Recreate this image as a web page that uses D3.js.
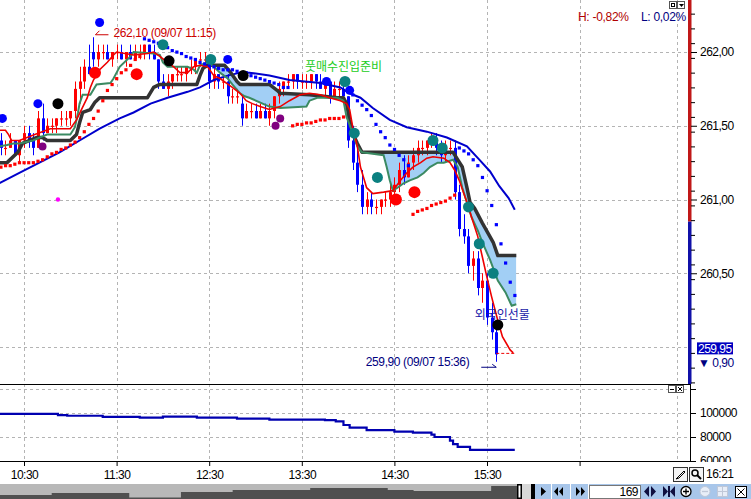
<!DOCTYPE html>
<html><head><meta charset="utf-8">
<script src="https://cdnjs.cloudflare.com/ajax/libs/d3/7.8.5/d3.min.js"></script>
<style>
html,body{margin:0;padding:0;background:#fff;overflow:hidden}
svg{display:block}
text{font-family:"Liberation Sans",Arial,sans-serif;}
.kr{font-family:"Noto Sans CJK KR","Noto Sans",sans-serif;}
</style></head><body>
<svg id="chart" width="751" height="499"></svg>
<script>
// ================= DATA =================
const barStart = "10:15";
const barMinutes = 3;
const opens = [261.40,261.35,261.35,261.40,261.30,261.40,261.45,261.40,261.35,261.55,
 261.45,261.50,261.50,261.55,261.55,261.55,261.60,261.75,261.80,261.90,
 262.00,261.95,262.00,262.00,261.95,262.00,262.00,261.95,262.00,261.95,
 262.00,262.00,262.05,262.00,261.95,261.80,261.75,261.80,261.85,261.85,
 261.85,261.90,261.90,261.95,261.95,261.95,261.80,261.85,261.80,261.80,
 261.70,261.70,261.65,261.55,261.60,261.60,261.55,261.60,261.55,261.60,
 261.70,261.75,261.80,261.80,261.85,261.80,261.80,261.80,261.85,261.80,
 261.75,261.80,261.70,261.75,261.75,261.70,261.40,261.25,261.10,260.95,
 261.00,260.95,260.95,261.00,261.00,261.05,261.10,261.20,261.15,261.25,
 261.30,261.35,261.35,261.40,261.40,261.35,261.30,261.35,261.35,261.05,
 260.80,260.75,260.55,260.60,260.40,260.45,260.20,260.10];
const highs = [261.45,261.40,261.45,261.40,261.40,261.50,261.50,261.45,261.60,261.65,
 261.55,261.55,261.55,261.60,261.60,261.60,261.80,261.90,261.95,262.05,
 262.10,262.05,262.05,262.05,262.00,262.05,262.05,262.00,262.05,262.05,
 262.05,262.05,262.05,262.05,261.95,261.85,261.85,261.85,261.90,261.90,
 261.90,261.95,261.95,262.00,262.00,261.95,261.90,261.85,261.85,261.85,
 261.75,261.75,261.70,261.65,261.65,261.65,261.65,261.65,261.65,261.70,
 261.80,261.80,261.85,261.85,261.85,261.85,261.85,261.85,261.85,261.85,
 261.80,261.80,261.80,261.80,261.80,261.70,261.50,261.35,261.20,261.05,
 261.05,261.00,261.00,261.05,261.10,261.15,261.25,261.30,261.30,261.35,
 261.40,261.40,261.40,261.45,261.45,261.40,261.40,261.40,261.40,261.10,
 260.90,260.80,260.65,260.65,260.50,260.50,260.30,260.15];
const lows = [261.30,261.30,261.35,261.30,261.25,261.35,261.35,261.30,261.35,261.40,
 261.45,261.45,261.45,261.50,261.50,261.50,261.55,261.65,261.75,261.85,
 261.90,261.90,261.95,261.95,261.90,261.95,261.95,261.90,261.95,261.95,
 261.95,261.95,261.95,261.95,261.75,261.75,261.70,261.75,261.80,261.80,
 261.80,261.85,261.85,261.90,261.90,261.75,261.75,261.75,261.75,261.65,
 261.65,261.65,261.50,261.55,261.55,261.55,261.55,261.55,261.50,261.55,
 261.65,261.70,261.75,261.75,261.75,261.75,261.75,261.75,261.75,261.75,
 261.70,261.65,261.70,261.70,261.70,261.35,261.20,261.05,260.90,260.90,
 260.90,260.90,260.90,260.95,260.95,261.00,261.05,261.10,261.15,261.20,
 261.25,261.30,261.30,261.35,261.30,261.25,261.25,261.30,261.00,260.75,
 260.70,260.50,260.45,260.35,260.30,260.15,260.05,259.90];
const closes = [261.35,261.35,261.40,261.30,261.40,261.45,261.40,261.35,261.55,261.45,
 261.50,261.50,261.55,261.55,261.55,261.60,261.75,261.80,261.90,261.85,
 261.95,262.00,262.00,261.95,262.00,262.00,261.95,262.00,261.95,262.00,
 262.00,262.05,262.00,261.95,261.80,261.75,261.80,261.85,261.85,261.85,
 261.90,261.90,261.95,261.95,261.95,261.80,261.85,261.80,261.80,261.70,
 261.70,261.70,261.55,261.60,261.60,261.55,261.60,261.55,261.60,261.70,
 261.75,261.80,261.80,261.85,261.80,261.80,261.80,261.85,261.80,261.75,
 261.80,261.70,261.75,261.75,261.70,261.40,261.25,261.10,260.95,261.00,
 260.95,260.95,261.00,261.00,261.05,261.10,261.20,261.15,261.25,261.30,
 261.35,261.35,261.40,261.40,261.35,261.30,261.35,261.35,261.05,260.80,
 260.75,260.55,260.60,260.40,260.45,260.20,260.10,259.95];

// long moving average (blue)
const maLongT = ["10:14","10:27","10:40","10:53","11:06","11:19","11:32","11:41","11:52","12:03","12:16","12:24","12:33","12:42","12:50","12:56","13:09","13:22","13:42","13:55","14:01","14:08","14:16","14:27","14:38","14:51","15:04","15:17","15:25","15:32","15:38","15:44","15:48"];
const maLongV = [261.11,261.18,261.25,261.32,261.40,261.48,261.55,261.59,261.65,261.69,261.73,261.76,261.81,261.84,261.86,261.86,261.84,261.81,261.79,261.76,261.72,261.69,261.62,261.54,261.49,261.46,261.42,261.36,261.27,261.19,261.09,261.01,260.93];

// base line (dark grey)
const baseT = ["10:14","10:19","10:26","10:29","10:38","10:42","10:45","10:49","11:00","11:04","11:06","11:08","11:13","11:16","11:19","11:50","11:54","11:58","12:22","12:24","12:26","12:29","12:40","12:44","12:48","12:50","13:09","13:14","13:16","13:35","13:53","13:57","13:59","14:01","14:03","14:06","14:09","15:08","15:11","15:14","15:17","15:19","15:22","15:27","15:34","15:37","15:49"];
const baseV = [261.25,261.25,261.32,261.38,261.42,261.42,261.40,261.40,261.40,261.44,261.52,261.59,261.61,261.66,261.69,261.69,261.76,261.78,261.78,261.84,261.89,261.91,261.91,261.86,261.80,261.78,261.78,261.74,261.72,261.71,261.69,261.69,261.65,261.54,261.45,261.38,261.32,261.32,261.27,261.22,261.08,260.98,260.94,260.84,260.71,260.62,260.62];

// conversion line (green)
const convT = ["10:14","10:19","10:23","10:27","10:36","10:40","10:45","11:00","11:03","11:05","11:06","11:08","11:13","11:17","11:26","11:28","11:30","11:32","11:39","11:41","11:54","11:58","12:00","12:03","12:16","12:20","12:22","12:24","12:29","12:33","12:37","12:42","12:45","12:50","12:53","12:56","13:09","13:16","13:33","13:35","13:40","13:53","13:57","13:59","14:03","14:06","14:09","14:23","14:25","14:27","14:29","14:32","14:36","14:40","14:45","14:49","14:53","14:58","15:02","15:08","15:11","15:14","15:17","15:20","15:24","15:27","15:32","15:37","15:42","15:46","15:49"];
const convV = [261.36,261.37,261.38,261.38,261.40,261.42,261.44,261.44,261.49,261.59,261.65,261.71,261.71,261.78,261.79,261.82,261.86,261.90,261.97,262.00,261.99,261.98,261.93,261.90,261.90,261.88,261.86,261.91,261.93,261.90,261.86,261.82,261.78,261.72,261.70,261.69,261.63,261.62,261.63,261.67,261.69,261.69,261.67,261.56,261.45,261.36,261.32,261.30,261.22,261.13,261.06,261.08,261.11,261.13,261.15,261.18,261.22,261.25,261.25,261.27,261.22,261.08,260.98,260.88,260.79,260.71,260.59,260.45,260.37,260.28,260.29];

// short moving average (red)
const maShortT = ["10:14","10:18","10:20","10:22","10:27","10:37","10:47","11:00","11:04","11:11","11:13","11:15","11:19","11:24","11:28","11:30","11:41","11:50","11:54","11:58","12:03","12:07","12:11","12:16","12:20","12:24","12:29","12:33","12:37","12:45","12:50","12:54","12:58","13:03","13:09","13:16","13:22","13:29","13:35","13:42","13:48","13:55","13:59","14:01","14:03","14:06","14:08","14:12","14:16","14:23","14:29","14:34","14:38","14:42","14:47","14:51","14:55","15:02","15:06","15:09","15:12","15:17","15:20","15:24","15:27","15:30","15:33","15:37","15:40","15:45","15:47"];
const maShortV = [261.47,261.47,261.44,261.40,261.40,261.44,261.48,261.48,261.54,261.69,261.76,261.81,261.88,261.93,261.98,262.00,261.98,261.99,262.00,261.97,261.93,261.90,261.86,261.86,261.90,261.91,261.90,261.84,261.82,261.76,261.72,261.67,261.65,261.63,261.61,261.63,261.67,261.71,261.72,261.71,261.69,261.67,261.65,261.61,261.49,261.36,261.22,261.08,261.04,261.05,261.06,261.13,261.18,261.22,261.25,261.28,261.29,261.28,261.25,261.20,261.13,260.98,260.88,260.75,260.61,260.47,260.34,260.18,260.07,259.98,259.96];
const lastTailEnd = "15:48";

// parabolic SAR dot groups (start time, one dot per bar)
const sarStarts = ["10:15","11:48","13:24","14:00","14:42","15:12"];
const sarSides  = ["below","above","below","above","below","above"];
const sar1 = [261.22,261.23,261.23,261.24,261.25,261.25,261.25,261.25,261.26,261.27,261.29,261.31,261.32,261.34,261.35,261.37,261.39,261.42,261.46,261.51,261.55,261.60,261.67,261.74,261.78,261.82,261.86,261.88,261.91,261.95,261.97];
const sar2 = [262.09,262.08,262.07,262.06,262.04,262.03,262.01,262.00,261.99,261.97,261.96,261.95,261.93,261.92,261.91,261.90,261.89,261.88,261.88,261.88,261.87,261.86,261.86,261.84,261.83,261.82,261.81,261.80,261.79,261.78,261.76,261.76];
const sar3 = [261.50,261.51,261.51,261.52,261.52,261.53,261.54,261.54,261.55,261.55,261.55,261.56];
const sar4 = [261.74,261.71,261.67,261.64,261.61,261.57,261.51,261.46,261.42,261.37,261.34,261.30,261.27,261.23];
const sar5 = [260.90,260.92,260.93,260.94,260.96,260.97,260.98,260.99,261.01,261.03];
const sar6 = [261.35,261.33,261.31,261.27,261.23,261.15,261.06,260.96,260.83,260.70,260.57,260.44,260.35];

// signal markers
const sigT = ["10:16","10:39","11:19","12:42","13:46","14:01","10:52","12:04","12:52","15:37","12:00","12:31","13:58","14:04","14:19","14:55","15:01","15:18","15:25","15:34","11:16","11:43","14:31","14:43","10:42","13:13","13:16","10:52"];
const sigV = [261.55,261.65,262.20,261.95,261.80,261.74,261.65,261.94,261.84,260.15,262.05,261.95,261.80,261.45,261.15,261.40,261.35,260.95,260.70,260.50,261.86,261.85,261.00,261.05,261.36,261.50,261.55,261.00];
const sigKind = ["B","B","B","B","B","B","K","K","K","K","T","T","T","T","T","T","T","T","T","T","R","R","R","R","P","P","P","M"];

// lower pane (step line)
const subT = ["10:14","10:52","10:58","11:21","11:45","12:00","12:22","12:48","13:09","13:45","13:52","13:57","14:01","14:12","14:30","14:42","14:54","14:56","15:06","15:08","15:11","15:19","15:48"];
const subV = [99200,98300,97700,96700,96100,96900,96100,95300,94400,94100,93100,90000,87800,85800,84400,83600,82000,80000,77000,74000,71700,69200,69200];

// axes / labels
const priceTicks = [262.0, 261.5, 261.0, 260.5];
const priceGrid = [262.0, 261.5, 261.0, 260.5, 260.0];
const subTicks = [100000, 80000, 60000];
const subGrid = [120000, 100000, 80000];
const timeLabels = ["10:30","11:30","12:30","13:30","14:30","15:30"];
const timeTickMarks = ["10:30","11:30","12:30","13:30","14:30","15:30","16:30"];
const timeGrid = ["10:30","11:30","12:30","13:30","14:30","15:30","16:30","17:33"];
const refPrice = 260.85;
const lastPrice = 259.95;
const highLabel = "262,10 (09/07 11:15)";
const lowLabel = "259,90 (09/07 15:36)";
const highPoint = ["11:15", 262.10];
const lowPoint = ["15:36", 259.90];
const noteTexts = ["풋매수진입준비", "외국인선물"];
const noteT = ["13:32", "15:22"];
const noteV = [261.90, 260.22];
const headerH = "H: -0,82%";
const headerL = "L: 0,02%";
const clockLabel = "16:21";
const barCountLabel = "169";
const overviewV = [4,4,6,6,6,1.5,1.5,7,7,9,9,9,11,11,11,9,8,8,8,13,13];

// ================= RENDER =================
const svg = d3.select("#chart");
const tp = d3.timeParse("%H:%M");
const x = d3.scaleTime().domain([tp("10:30"), tp("15:30")]).range([24, 487]);
const y = d3.scaleLinear().domain([262, 260]).range([52, 347]);
const ySub = d3.scaleLinear().domain([60000, 120000]).range([461, 389]);
const R = 688, MB = 384, SB = 461;
const fmtP = d => d3.format(".2f")(d).replace(".", ",");
const gridCol = "#b4b4b4";

svg.append("rect").attr("width", 751).attr("height", 499).attr("fill", "#fff");
const defs = svg.append("defs");
defs.append("clipPath").attr("id", "cMain").append("rect").attr("x", 0).attr("y", 0).attr("width", R).attr("height", MB);
defs.append("clipPath").attr("id", "cSub").append("rect").attr("x", 0).attr("y", MB).attr("width", R).attr("height", SB - MB);
defs.append("clipPath").attr("id", "cLbl").append("rect").attr("x", 0).attr("y", MB + 1).attr("width", 60).attr("height", SB - MB);

const pts = (T, V) => T.map((t, i) => [tp(t), V[i]]);
const barTimes = opens.map((_, i) => d3.timeMinute.offset(tp(barStart), i * barMinutes));

// grid
const grid = svg.append("g").attr("stroke", gridCol).attr("stroke-dasharray", "3,3").attr("stroke-width", 1);
priceGrid.forEach(v => grid.append("line").attr("x1", 0).attr("x2", R).attr("y1", Math.round(y(v)) + 0.5).attr("y2", Math.round(y(v)) + 0.5));
subGrid.forEach(v => grid.append("line").attr("x1", 0).attr("x2", R).attr("y1", Math.round(ySub(v)) + 0.5).attr("y2", Math.round(ySub(v)) + 0.5));
timeGrid.forEach(t => grid.append("line").attr("y1", 0).attr("y2", SB).attr("x1", Math.round(x(tp(t))) + 0.5).attr("x2", Math.round(x(tp(t))) + 0.5));

const main = svg.append("g").attr("clip-path", "url(#cMain)");

// cloud fill between base (top) and conversion (below)
const convPts = pts(convT, convV), basePts = pts(baseT, baseV);
defs.append("clipPath").attr("id", "cAboveConv").append("path")
  .attr("d", d3.area().x(d => x(d[0])).y0(0).y1(d => y(d[1]))(convPts));
main.append("path").attr("clip-path", "url(#cAboveConv)")
  .attr("d", d3.area().x(d => x(d[0])).y0(d => y(d[1])).y1(MB)(basePts))
  .attr("fill", "#a2cff5");

// candles
const cg = main.append("g");
barTimes.forEach((t, i) => {
  const up = closes[i] >= opens[i];
  const col = up ? "#ff0000" : "#0000ff";
  const cx = Math.round(x(t));
  cg.append("line").attr("x1", cx + 0.5).attr("x2", cx + 0.5).attr("y1", y(highs[i])).attr("y2", y(lows[i])).attr("stroke", col).attr("stroke-width", 1);
  const top = y(Math.max(opens[i], closes[i])), bot = y(Math.min(opens[i], closes[i]));
  cg.append("rect").attr("x", cx - 1).attr("y", top).attr("width", 3).attr("height", Math.max(1.2, bot - top)).attr("fill", col);
});

const line = d3.line().x(d => x(d[0])).y(d => y(d[1]));
main.append("path").attr("d", line(pts(maLongT, maLongV))).attr("fill", "none").attr("stroke", "#0000cc").attr("stroke-width", 2);
main.append("path").attr("d", line(basePts)).attr("fill", "none").attr("stroke", "#333333").attr("stroke-width", 3.5).attr("stroke-linejoin", "round");
main.append("path").attr("d", line(convPts)).attr("fill", "none").attr("stroke", "#3b8a62").attr("stroke-width", 2);
main.append("path").attr("d", line(pts(maShortT, maShortV))).attr("fill", "none").attr("stroke", "#ee0000").attr("stroke-width", 1.6);
// last price dashed tail
main.append("line").attr("x1", x(barTimes[barTimes.length - 1])).attr("x2", x(tp(lastTailEnd)))
  .attr("y1", y(closes[closes.length - 1]) - 1).attr("y2", y(closes[closes.length - 1]) - 1)
  .attr("stroke", "#ee0000").attr("stroke-dasharray", "3,2").attr("stroke-width", 1);

// SAR dots
[sar1, sar2, sar3, sar4, sar5, sar6].forEach((arr, g) => {
  const col = sarSides[g] === "below" ? "#ff0000" : "#0000ff";
  arr.forEach((v, k) => {
    const t = d3.timeMinute.offset(tp(sarStarts[g]), k * barMinutes);
    main.append("rect").attr("x", x(t) - 1.5).attr("y", y(v) - 1.5).attr("width", 3.2).attr("height", 3.2).attr("fill", col);
  });
});

// signal markers
const sigStyle = {B: ["#0000ff", 4.5], K: ["#000000", 5.5], T: ["#0b8080", 5.5], R: ["#ff0000", 6], P: ["#800080", 4], M: ["#ff00ff", 2.2]};
sigT.forEach((t, i) => {
  const s = sigStyle[sigKind[i]];
  main.append("circle").attr("cx", x(tp(t))).attr("cy", y(sigV[i])).attr("r", s[1]).attr("fill", s[0]);
});

// high / low annotations
const hx = x(tp(highPoint[0])), hy = y(highPoint[1]);
main.append("path").attr("d", `M${hx + 15},${hy - 2.5}H${hx + 2}L${hx + 6},${hy - 6.5}`).attr("fill", "none").attr("stroke", "#cc0000");
main.append("text").attr("x", hx + 20).attr("y", hy - 4).attr("dy", "0.35em").attr("font-size", 12).attr("letter-spacing", -0.4).attr("fill", "#cc0000").text(highLabel);
const lx = x(tp(lowPoint[0])), ly = y(lowPoint[1]);
main.append("path").attr("d", `M${lx - 15},${ly + 5.5}H${lx}L${lx - 4},${ly + 2.5}`).attr("fill", "none").attr("stroke", "#000080");
main.append("text").attr("x", lx - 27).attr("y", ly).attr("dy", "0.35em").attr("text-anchor", "end").attr("font-size", 12).attr("letter-spacing", -0.4).attr("fill", "#000080").text(lowLabel);

// notes
noteTexts.forEach((s, i) => {
  main.append("text").attr("class", "kr").attr("x", x(tp(noteT[i]))).attr("y", y(noteV[i])).attr("dy", "0.35em")
    .attr("font-size", 12).attr("fill", i === 0 ? "#22cc22" : "#1a1aa8").text(s);
});

// header
svg.append("text").attr("x", 578).attr("y", 17).attr("dy", "0.35em").attr("font-size", 12).attr("letter-spacing", -0.3).attr("fill", "#b00000").text(headerH);
svg.append("text").attr("x", 641).attr("y", 17).attr("dy", "0.35em").attr("font-size", 12).attr("letter-spacing", -0.3).attr("fill", "#000080").text(headerL);
const hb = svg.append("g").attr("fill", "#fff").attr("stroke", "#555");
hb.append("rect").attr("x", 669.5).attr("y", 1.5).attr("width", 7).attr("height", 7);
hb.append("rect").attr("x", 677.5).attr("y", 1.5).attr("width", 7).attr("height", 7);
svg.append("rect").attr("x", 671.5).attr("y", 3.5).attr("width", 3).attr("height", 3).attr("fill", "none").attr("stroke", "#000");
svg.append("path").attr("d", "M679,4H684L681.5,7Z").attr("fill", "#000");

// main right axis
const yCut = y(refPrice);
svg.append("rect").attr("x", 688).attr("y", 0).attr("width", 3.5).attr("height", yCut).attr("fill", "#c01818");
svg.append("rect").attr("x", 688).attr("y", yCut).attr("width", 3.5).attr("height", MB - yCut).attr("fill", "#1010a8");
const minorTicks = d3.range(25976, 26231, 10).map(v => v / 100);
const axMinor = d3.axisRight(y).tickValues(minorTicks).tickSize(4).tickFormat("");
const gMinor = svg.append("g").attr("transform", "translate(691,0)").call(axMinor);
gMinor.select(".domain").remove();
const axMajor = d3.axisRight(y).tickValues(priceTicks).tickSize(6).tickPadding(3).tickFormat(fmtP);
const gMajor = svg.append("g").attr("transform", "translate(691,0)").call(axMajor);
gMajor.select(".domain").remove();
gMajor.selectAll("text").attr("font-size", 12).attr("letter-spacing", -0.5).attr("font-family", "Liberation Sans, Arial, sans-serif").attr("fill", "#000");
// current price box
const lp = y(lastPrice);
svg.append("rect").attr("x", 697).attr("y", lp - 12).attr("width", 36).attr("height", 12).attr("fill", "#0000c0");
svg.append("text").attr("x", 698).attr("y", lp - 6).attr("dy", "0.35em").attr("font-size", 12).attr("letter-spacing", -0.5).attr("fill", "#fff").text(fmtP(lastPrice));
svg.append("text").attr("x", 698).attr("y", lp + 8).attr("dy", "0.35em").attr("font-size", 12).attr("letter-spacing", -0.5).attr("fill", "#000080")
  .text("▼ " + fmtP(Math.abs(lastPrice - refPrice)));

// sub pane
svg.append("line").attr("x1", 0).attr("x2", 691).attr("y1", MB + 0.5).attr("y2", MB + 0.5).attr("stroke", "#000");
svg.append("line").attr("x1", 0).attr("x2", 691).attr("y1", SB + 0.5).attr("y2", SB + 0.5).attr("stroke", "#000");
svg.append("line").attr("x1", 690.5).attr("x2", 690.5).attr("y1", MB).attr("y2", SB).attr("stroke", "#000");
svg.append("g").attr("clip-path", "url(#cSub)").append("path")
  .attr("d", d3.line().curve(d3.curveStepAfter).x(d => x(d[0])).y(d => ySub(d[1]))(pts(subT, subV)))
  .attr("fill", "none").attr("stroke", "#0000b0").attr("stroke-width", 2.2);
const axSub = d3.axisRight(ySub).tickValues([120000].concat(subTicks)).tickSize(5).tickPadding(4).tickFormat(d => d === 120000 ? "" : d3.format("d")(d));
const gSub = svg.append("g").attr("transform", "translate(691,0)").attr("clip-path", "url(#cLbl)").call(axSub);
gSub.select(".domain").remove();
gSub.selectAll("text").attr("font-size", 12).attr("letter-spacing", -0.5).attr("font-family", "Liberation Sans, Arial, sans-serif").attr("fill", "#000");
const sb = svg.append("g").attr("fill", "#fff").attr("stroke", "#555");
sb.append("rect").attr("x", 668.5).attr("y", 385.5).attr("width", 7).attr("height", 7);
sb.append("rect").attr("x", 676.5).attr("y", 385.5).attr("width", 7).attr("height", 7);
svg.append("line").attr("x1", 670).attr("x2", 674).attr("y1", 389.5).attr("y2", 389.5).attr("stroke", "#000");
svg.append("path").attr("d", "M678,387L682,391M682,387L678,391").attr("stroke", "#000");

// time axis
const axT = d3.axisBottom(x).tickValues(timeTickMarks.map(tp)).tickSize(5).tickPadding(4)
  .tickFormat(d => timeLabels.includes(d3.timeFormat("%H:%M")(d)) ? d3.timeFormat("%H:%M")(d) : "");
const gT = svg.append("g").attr("transform", `translate(0,${SB})`).call(axT);
gT.select(".domain").remove();
gT.selectAll("text").attr("font-size", 12).attr("letter-spacing", -0.5).attr("font-family", "Liberation Sans, Arial, sans-serif").attr("fill", "#000");
svg.append("text").attr("x", 706).attr("y", 474).attr("dy", "0.35em").attr("font-size", 12).attr("letter-spacing", -0.5).attr("fill", "#000").text(clockLabel);
// pencil & magnifier
svg.append("rect").attr("x", 673.5).attr("y", 467.5).attr("width", 14).attr("height", 14).attr("fill", "#f4f4f4").attr("stroke", "#333");
svg.append("path").attr("d", "M676,479L678,477L684,471L685,472L679,478Z").attr("fill", "none").attr("stroke", "#000");
svg.append("rect").attr("x", 689.5).attr("y", 467.5).attr("width", 14).attr("height", 14).attr("fill", "#f4f4f4").attr("stroke", "#333");
svg.append("circle").attr("cx", 695).attr("cy", 473).attr("r", 3).attr("fill", "none").attr("stroke", "#000").attr("stroke-width", 1.5);
svg.append("line").attr("x1", 697).attr("y1", 475).attr("x2", 701).attr("y2", 479).attr("stroke", "#000").attr("stroke-width", 2);

// scrollbar / overview
svg.append("rect").attr("x", 0).attr("y", 484).attr("width", 517).attr("height", 15).attr("fill", "#b8b8b8");
const ox = d3.scaleLinear().domain([0, overviewV.length - 1]).range([0, 517]);
const oy = d3.scaleLinear().domain([0, 15]).range([499, 484]);
svg.append("path").attr("d", d3.area().curve(d3.curveStepAfter).x((d, i) => ox(i)).y0(499).y1(d => oy(d))(overviewV)).attr("fill", "#505050");
svg.append("rect").attr("x", 517).attr("y", 484).attr("width", 234).attr("height", 15).attr("fill", "#a8c6ea");
svg.append("rect").attr("x", 517).attr("y", 484).attr("width", 5).attr("height", 15).attr("fill", "#000");
svg.append("rect").attr("x", 518.5).attr("y", 485.5).attr("width", 2).attr("height", 12).attr("fill", "#fff");
svg.append("rect").attr("x", 531).attr("y", 484).attr("width", 4).attr("height", 15).attr("fill", "#000");
svg.append("rect").attr("x", 522).attr("y", 484).attr("width", 9).attr("height", 15).attr("fill", "#d8d8d8");
const btn = svg.append("g").attr("fill", "#000");
btn.append("path").attr("d", "M541,487L546,491.5L541,496Z");
btn.append("path").attr("d", "M558,487L554,491.5L558,496ZM563,487L559,491.5L563,496Z");
btn.append("path").attr("d", "M576,487L580,491.5L576,496ZM581,487L585,491.5L581,496Z");
[551, 570, 588].forEach(xx => svg.append("line").attr("x1", xx + 0.5).attr("x2", xx + 0.5).attr("y1", 484).attr("y2", 499).attr("stroke", "#fff"));
svg.append("rect").attr("x", 589.5).attr("y", 485.5).attr("width", 51).attr("height", 13).attr("fill", "#fff").attr("stroke", "#777");
svg.append("text").attr("x", 638).attr("y", 492).attr("dy", "0.35em").attr("text-anchor", "end").attr("font-size", 12).attr("letter-spacing", -0.5).attr("fill", "#000").text(barCountLabel);
btn.append("path").attr("d", "M649,486L644,491.5L649,497ZM651,486L656,491.5L651,497Z").attr("fill", "#101040");
btn.append("path").attr("d", "M663,486L668,491.5L663,497ZM675,486L670,491.5L675,497Z").attr("fill", "#101040");
btn.append("rect").attr("x", 668).attr("y", 486).attr("width", 2).attr("height", 11).attr("fill", "#101040");
svg.append("circle").attr("cx", 686).attr("cy", 491.5).attr("r", 5).attr("fill", "#fff").attr("stroke", "#000").attr("stroke-width", 1.3);
svg.append("path").attr("d", "M683,491.5H689M686,488.5V494.5").attr("stroke", "#000").attr("stroke-width", 1.3);
svg.append("circle").attr("cx", 705).attr("cy", 491.5).attr("r", 5).attr("fill", "#e8eef8").attr("stroke", "#c0c8d8");
svg.append("path").attr("d", "M702,491.5H708").attr("stroke", "#c0c8d8").attr("stroke-width", 1.3);
svg.append("rect").attr("x", 717.5).attr("y", 486.5).attr("width", 10).attr("height", 10).attr("fill", "#e8eef8").attr("stroke", "#c0c8d8");
svg.append("path").attr("d", "M722.5,486.5V496.5M717.5,491.5H727.5").attr("stroke", "#c0c8d8");
svg.append("rect").attr("x", 735.5).attr("y", 486.5).attr("width", 11).attr("height", 11).attr("fill", "#fff").attr("stroke", "#000");
svg.append("path").attr("d", "M737.5,488.5L744.5,495.5M744.5,488.5L737.5,495.5").attr("stroke", "#000");
</script>
</body></html>
